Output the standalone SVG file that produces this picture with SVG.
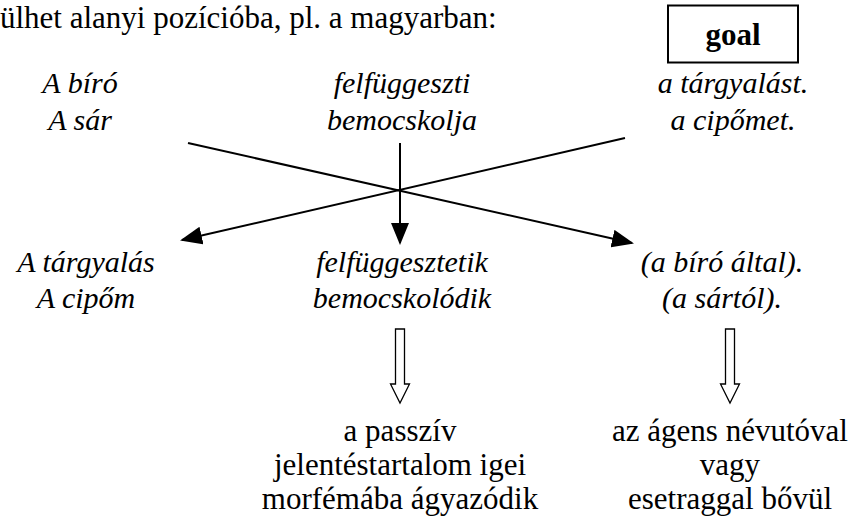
<svg xmlns="http://www.w3.org/2000/svg" width="856" height="524" viewBox="0 0 856 524">
  <style>
    .t { font-family: 'Liberation Serif', 'Times New Roman', serif; font-size: 31px; fill: #000; }
    .it { font-style: italic; font-size: 30px; }
    .c { text-anchor: middle; }
    .b { font-weight: bold; }
    .ln { stroke: #000; stroke-width: 2; fill: none; }
    .hollow { stroke: #000; stroke-width: 1.3; fill: #fff; }
  </style>
  <defs>
    <marker id="head" markerWidth="11" markerHeight="9" refX="10" refY="4.5" orient="auto" markerUnits="strokeWidth">
      <path d="M0,0 L11,4.5 L0,9 Z" fill="#000"/>
    </marker>
  </defs>
  <rect width="856" height="524" fill="#fff"/>

  <text class="t" x="0" y="28">ülhet alanyi pozícióba, pl. a magyarban:</text>

  <g id="goal">
    <rect x="668" y="5.5" width="130" height="57" fill="#fff" stroke="#000" stroke-width="2"/>
    <text class="t c b" x="733" y="45">goal</text>
  </g>

  <g id="subject-active">
    <text class="t it c" x="80" y="93">A bíró</text>
    <text class="t it c" x="80" y="130">A sár</text>
  </g>
  <g id="verb-active">
    <text class="t it c" x="402" y="93">felfüggeszti</text>
    <text class="t it c" x="402" y="130">bemocskolja</text>
  </g>
  <g id="object-active">
    <text class="t it c" x="733" y="93">a tárgyalást.</text>
    <text class="t it c" x="733" y="130">a cipőmet.</text>
  </g>

  <g id="subject-passive">
    <text class="t it c" x="86" y="272">A tárgyalás</text>
    <text class="t it c" x="86" y="308">A cipőm</text>
  </g>
  <g id="verb-passive">
    <text class="t it c" x="402" y="272">felfüggesztetik</text>
    <text class="t it c" x="402" y="308">bemocskolódik</text>
  </g>
  <g id="agent-passive">
    <text class="t it c" x="722" y="272">(a bíró által).</text>
    <text class="t it c" x="722" y="308">(a sártól).</text>
  </g>

  <g id="note-verb">
    <text class="t c" x="400" y="441">a passzív</text>
    <text class="t c" x="400" y="475">jelentéstartalom igei</text>
    <text class="t c" x="400" y="509">morfémába ágyazódik</text>
  </g>
  <g id="note-agent">
    <text class="t c" x="730" y="441">az ágens névutóval</text>
    <text class="t c" x="730" y="475">vagy</text>
    <text class="t c" x="730" y="509">esetraggal bővül</text>
  </g>

  <g id="connectors">
    <line class="ln" x1="188" y1="143" x2="632" y2="243" marker-end="url(#head)"/>
    <line class="ln" x1="625" y1="138" x2="182" y2="240" marker-end="url(#head)"/>
    <line class="ln" x1="400" y1="143" x2="400" y2="243" marker-end="url(#head)"/>
    <path class="hollow" d="M395.5,329 H404.5 V384 H409.5 L400,403 L390.5,384 H395.5 Z"/>
    <path class="hollow" d="M725.5,329 H734.5 V384 H739.5 L730,403 L720.5,384 H725.5 Z"/>
  </g>
</svg>
